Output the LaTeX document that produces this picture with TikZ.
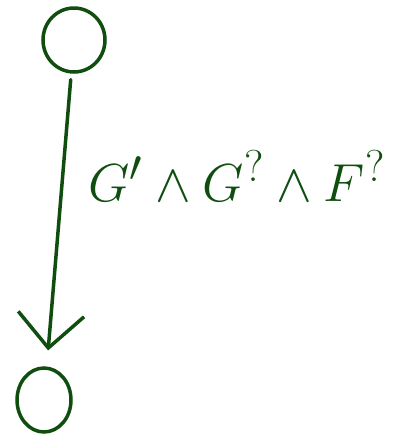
\documentclass[tikz,border=0pt]{standalone}
\usetikzlibrary{arrows.meta,shapes.geometric}
\definecolor{ink}{RGB}{16,78,16}
\begin{document}
\begin{tikzpicture}[x=1pt, y=-1pt,
  st/.style={ellipse, draw=ink, line width=3.5pt, inner sep=0pt},
  tr/.style={draw=ink, line width=3.5pt, line cap=round,
    -{Straight Barb[length=34pt, width=66pt, line width=3.5pt]}}]

\useasboundingbox (0,0) rectangle (394,437);

% --- States ---
\node[st, minimum width=62pt, minimum height=64pt] (s) at (74, 40) {};
\node[st, minimum width=54pt, minimum height=64pt] (t) at (44, 400) {};

% --- Transition ---
\draw[tr, shorten <=6pt, shorten >=16pt] (s) -- (t);

% --- Label ---
\node[text=ink, font=\Huge, scale=2.15] (lab) at (237, 176)
  {$G' \wedge G^{?} \wedge F^{?}$};

\end{tikzpicture}
\end{document}
